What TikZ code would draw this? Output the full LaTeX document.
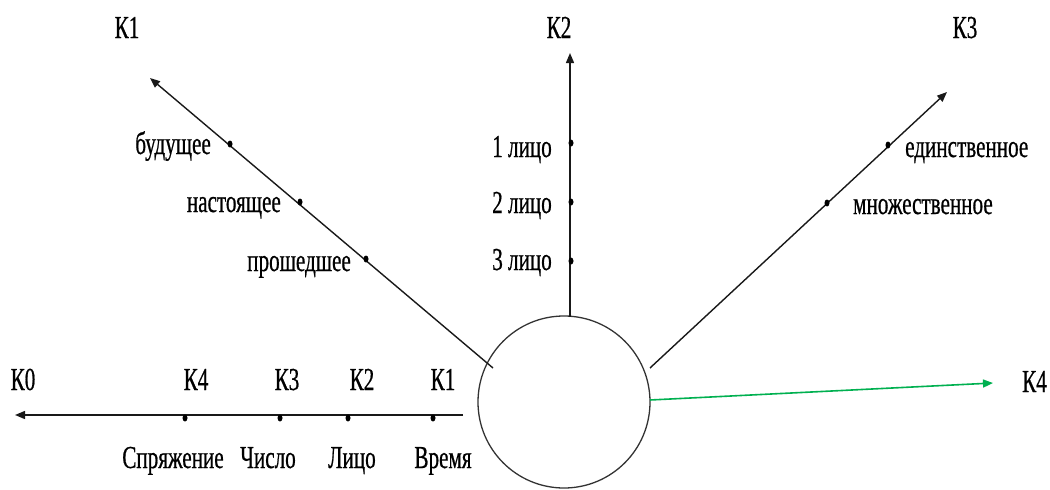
\documentclass[tikz,border=0pt]{standalone}
\usepackage{fontspec}
\setmainfont[FakeStretch=0.66,FakeBold=0.6]{Liberation Serif}
\usetikzlibrary{arrows.meta,shapes.geometric}
\definecolor{axisgreen}{RGB}{0,176,80}
\begin{document}
\begin{tikzpicture}[x=1pt,y=-1pt,
  axis/.style={line width=1.4pt,draw=black!90,-{Triangle[length=10pt,width=8pt]}},
  gaxis/.style={line width=1.6pt,draw=axisgreen,-{Triangle[length=10pt,width=8pt]}},
  tick/.style={fill=black,ellipse,inner sep=0pt,minimum width=5pt,minimum height=7pt},
  lbl/.style={inner sep=0pt,font=\fontsize{32}{34}\selectfont}
]
\useasboundingbox (0,0) rectangle (1050,490);
% centre circle
\node[draw=black!80,line width=1.3pt,circle,minimum size=172pt,inner sep=0pt] (c) at (564,402) {};
% end points of the axes
\coordinate (a1s) at (493,368); \coordinate (a1e) at (150,78);
\coordinate (a2s) at (570,317); \coordinate (a2e) at (570,53);
\coordinate (a3s) at (650,368); \coordinate (a3e) at (947,92);
\coordinate (a0s) at (463,415); \coordinate (a0e) at (15,415);
\coordinate (a4s) at (650,400); \coordinate (a4e) at (993,383);
\draw[axis] (a1s) -- (a1e);
\draw[axis] (a2s) -- (a2e);
\draw[axis] (a3s) -- (a3e);
\draw[axis] (a0s) -- (a0e);
\draw[gaxis] (a4s) -- (a4e);
% ticks
\node[tick] (t11) at (230,144) {};
\node[tick] (t12) at (300,202) {};
\node[tick] (t13) at (366,259) {};
\node[tick] (t21) at (571,143) {};
\node[tick] (t22) at (571,202) {};
\node[tick] (t23) at (571,261) {};
\node[tick] (t31) at (888,145) {};
\node[tick] (t32) at (827,203) {};
\node[tick] (t01) at (185,418) {};
\node[tick] (t02) at (280,418) {};
\node[tick] (t03) at (348,418) {};
\node[tick] (t04) at (433,418) {};
% axis names
\node[lbl,anchor=base] (n1) at (127,38) {К1};
\node[lbl,anchor=base] (n2) at (559,38) {К2};
\node[lbl,anchor=base] (n3) at (965,38) {К3};
\node[lbl,anchor=base west] (n4) at (1022,392) {К4};
% K1 labels
\node[lbl,anchor=base east] (l11) at (211,154) {будущее};
\node[lbl,anchor=base east] (l12) at (281,212) {настоящее};
\node[lbl,anchor=base east] (l13) at (351,271) {прошедшее};
% K2 labels
\node[lbl,anchor=base east] (l21) at (552,157) {1 лицо};
\node[lbl,anchor=base east] (l22) at (552,213) {2 лицо};
\node[lbl,anchor=base east] (l23) at (552,270) {3 лицо};
% K3 labels
\node[lbl,anchor=base west] (l31) at (905,157) {единственное};
\node[lbl,anchor=base west] (l32) at (853,214) {множественное};
% K0 axis labels
\node[lbl,anchor=base] (m0) at (23,390) {К0};
\node[lbl,anchor=base] (m4) at (196,390) {К4};
\node[lbl,anchor=base] (m3) at (287,390) {К3};
\node[lbl,anchor=base] (m2) at (362,390) {К2};
\node[lbl,anchor=base] (m1) at (443,390) {К1};
\node[lbl,anchor=base] (b4) at (173,468) {Спряжение};
\node[lbl,anchor=base] (b3) at (268,468) {Число};
\node[lbl,anchor=base] (b2) at (352,468) {Лицо};
\node[lbl,anchor=base] (b1) at (443,468) {Время};
\end{tikzpicture}
\end{document}
